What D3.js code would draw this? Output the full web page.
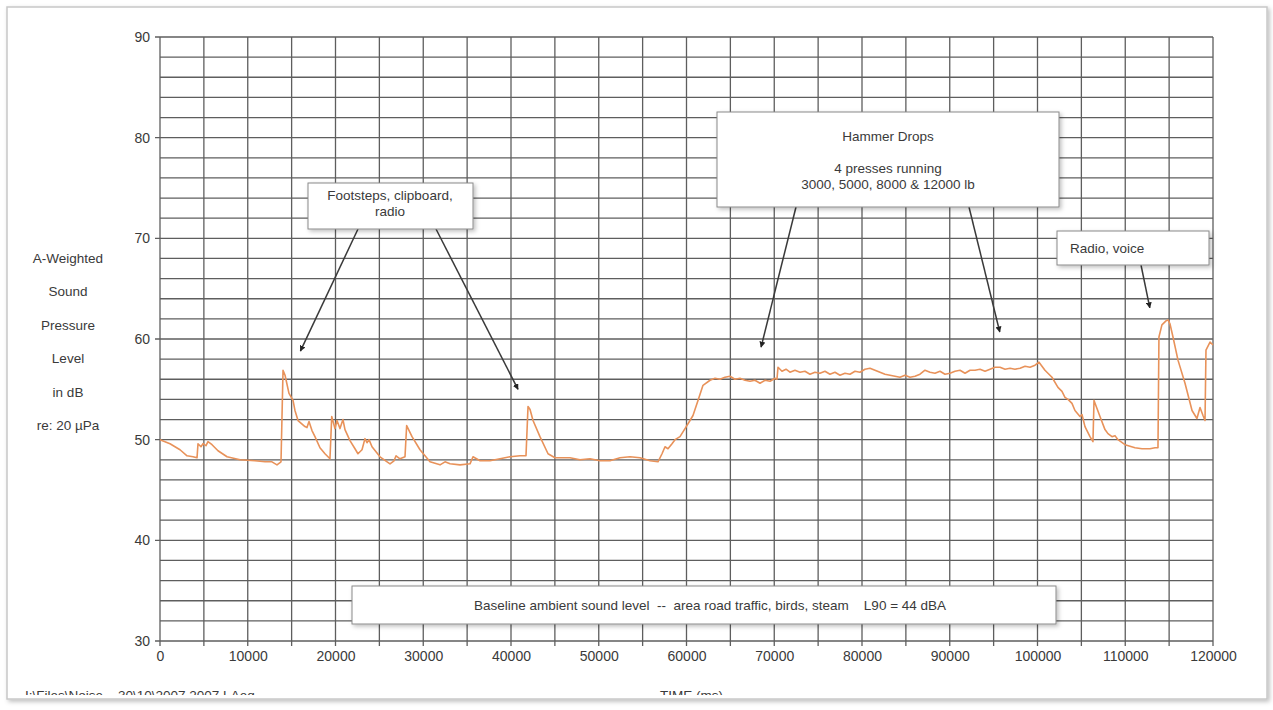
<!DOCTYPE html>
<html>
<head>
<meta charset="utf-8">
<script src="https://cdn.jsdelivr.net/npm/d3@7"></script>
<style>
  body { margin: 0; background: #fff; }
  text { font-family: "Liberation Sans", Arial, sans-serif; fill: #3a3a3a; white-space: pre; }
</style>
</head>
<body>
<div class="chart"></div>
<script>
// time axis in ms, level in dBA
var timeMs = [0, 1140, 2280, 3080, 3760, 4220, 4330, 4670, 4900, 5240, 5470, 5930, 6610, 7640, 9120, 10830, 11970, 12760, 13330, 13790,
  14020, 14250, 14700, 15160, 15380, 15730, 16520, 16750, 16980, 17320, 17660, 18230, 18800, 19370,
  19570, 19940, 20170, 20510, 20850, 21080, 21650, 22220, 22560, 23020, 23360, 23590, 23820, 24160, 25070, 26210, 26670, 26900, 27350, 27920,
  28110, 28720, 29630, 30770, 31910, 32480, 33050, 34190, 35330, 35670, 36470, 37610, 38750, 39890, 41030, 41710,
  41940, 42170, 42510, 43300, 44220, 45010, 46720, 47860, 49000, 50140, 51280, 52420, 53560, 54700, 55840, 56750,
  57210, 57550, 57890, 58350, 58690, 59260, 59830, 60400, 60740, 61310, 61880, 62680, 63250, 63820, 64390, 64950, 65520, 66090, 66670, 67240, 67800, 68380, 68950, 69520, 70090, 70310,
  70430, 70880, 71340, 71790, 72360, 72930, 73500, 74070, 74640, 75210, 75780, 76350, 76920, 77490, 78060, 78630, 79200, 79770, 80340, 80910, 81480, 82050, 82620, 83190, 83760, 84330, 84900, 85470, 86040, 86610, 87180, 87750, 88320, 88890, 89460, 90030, 90600, 91170, 91740, 92310, 92880, 93450, 94020, 94590, 95160, 95730, 96300, 96870, 97430, 98010, 98580, 99150, 99720, 100170,
  100850, 101650, 102330, 102790, 103130, 103480, 103930, 104270, 104840, 105070, 105410, 105980, 106320,
  106440, 107120, 107690, 108030, 108490, 108830, 109170, 109970, 111110, 111910, 112820, 113390, 113730,
  113840, 114180, 114640, 114870, 115100, 115440, 116010, 116810, 117610, 118170, 118520, 118860, 119090, 119200, 119660, 120000];

var levelDb = [50.0, 49.6, 49.0, 48.4, 48.3, 48.2, 49.6, 49.3, 49.6, 49.4, 49.8, 49.5, 48.9, 48.3, 48.0, 47.9, 47.8, 47.8, 47.5, 47.8,
  56.9, 56.4, 54.6, 53.9, 52.9, 51.9, 51.3, 51.2, 51.8, 50.9, 50.3, 49.2, 48.6, 48.1,
  52.3, 51.1, 51.9, 51.1, 52.0, 51.0, 49.9, 49.1, 48.6, 49.0, 50.1, 49.7, 50.0, 49.3, 48.3, 47.6, 47.9, 48.4, 48.1, 48.3,
  51.4, 50.3, 49.0, 47.8, 47.5, 47.8, 47.6, 47.5, 47.6, 48.3, 47.9, 47.9, 48.1, 48.3, 48.4, 48.4,
  53.3, 53.0, 51.9, 50.3, 48.6, 48.2, 48.2, 48.0, 48.1, 47.9, 47.9, 48.2, 48.3, 48.2, 47.9, 47.8,
  48.6, 49.3, 49.1, 49.6, 50.0, 50.3, 51.1, 51.9, 52.4, 53.9, 55.4, 55.9, 56.1, 56.0, 56.2, 56.3, 56.0, 56.1, 55.9, 55.8, 55.9, 55.6, 55.9, 55.8, 56.1, 56.0,
  57.2, 56.8, 57.0, 56.7, 56.9, 56.7, 56.8, 56.5, 56.7, 56.6, 56.8, 56.5, 56.7, 56.4, 56.6, 56.5, 56.8, 56.7, 57.0, 57.1, 56.9, 56.7, 56.5, 56.4, 56.3, 56.2, 56.4, 56.2, 56.3, 56.5, 56.9, 56.7, 56.6, 56.8, 56.5, 56.6, 56.8, 56.9, 56.6, 56.9, 56.9, 57.0, 56.8, 57.0, 57.2, 57.2, 57.0, 57.1, 57.0, 57.1, 57.3, 57.2, 57.4, 57.7,
  56.9, 56.2, 55.2, 54.8, 54.2, 54.0, 53.6, 52.9, 52.3, 52.5, 51.3, 50.3, 49.8,
  53.9, 52.3, 51.0, 50.6, 50.3, 50.4, 50.0, 49.5, 49.2, 49.1, 49.1, 49.2, 49.2,
  60.2, 61.4, 61.8, 61.9, 61.5, 60.2, 57.9, 55.6, 52.9, 52.1, 53.2, 52.4, 51.9, 58.9, 59.7, 59.4];

var xTicks = [0, 10000, 20000, 30000, 40000, 50000, 60000, 70000, 80000, 90000, 100000, 110000, 120000];
var yTicks = [30, 40, 50, 60, 70, 80, 90];
var yLabelLines = ["A-Weighted", "Sound", "Pressure", "Level", "in dB", "re: 20 \u00b5Pa"];

var svgWidth = 1273;
var svgHeight = 710;

var margin = {top: 37, right: 60, bottom: 69, left: 160};
var width = 1213 - margin.left;
var height = 641 - margin.top;

var svg = d3.select(".chart")
  .append("svg")
  .attr("width", svgWidth)
  .attr("height", svgHeight);

var defs = svg.append("defs");

var shadow = defs.append("filter").attr("id", "shadow")
  .attr("x", "-5%").attr("y", "-10%").attr("width", "115%").attr("height", "130%");
shadow.append("feDropShadow")
  .attr("dx", 2).attr("dy", 2).attr("stdDeviation", 2)
  .attr("flood-color", "#000").attr("flood-opacity", 0.25);

defs.append("clipPath").attr("id", "clipBottom")
  .append("rect").attr("x", 0).attr("y", 0).attr("width", svgWidth).attr("height", 695);

defs.append("marker")
  .attr("id", "arrow")
  .attr("viewBox", "0 0 10 10")
  .attr("refX", 9).attr("refY", 5)
  .attr("markerWidth", 4).attr("markerHeight", 4)
  .attr("orient", "auto")
  .append("path")
  .attr("d", "M0,0 L10,5 L0,10 z")
  .attr("fill", "#222");

// outer frame
svg.append("rect")
  .attr("x", 7).attr("y", 7)
  .attr("width", 1260).attr("height", 692)
  .attr("fill", "#fff")
  .attr("stroke", "#c8c8c8")
  .attr("stroke-width", 1.5)
  .attr("filter", "url(#shadow)");

var chartGroup = svg.append("g")
  .attr("transform", `translate(${margin.left}, ${margin.top})`);

var x = d3.scaleLinear().domain([0, 120000]).range([0, width]);
var y = d3.scaleLinear().domain([30, 90]).range([height, 0]);

// grid
chartGroup.append("g")
  .selectAll("line.v")
  .data(d3.range(0, 120001, 5000))
  .join("line")
  .attr("x1", d => x(d)).attr("x2", d => x(d))
  .attr("y1", 0).attr("y2", height + 5)
  .attr("stroke", "#5e5e5e")
  .attr("stroke-width", 1.3);

chartGroup.append("g")
  .selectAll("line.h")
  .data(d3.range(30, 91, 2))
  .join("line")
  .attr("x1", d => (d % 10 === 0 ? -5 : 0)).attr("x2", width)
  .attr("y1", d => y(d)).attr("y2", d => y(d))
  .attr("stroke", "#5e5e5e")
  .attr("stroke-width", 1.3);

// axes labels
var xAxis = chartGroup.append("g")
  .attr("transform", `translate(0, ${height})`)
  .call(d3.axisBottom(x).tickValues(xTicks).tickSize(0).tickPadding(10).tickFormat(d3.format("d")));
xAxis.select(".domain").remove();
xAxis.selectAll("text").style("font-size", "14px").attr("fill", "#3a3a3a");

var yAxis = chartGroup.append("g")
  .call(d3.axisLeft(y).tickValues(yTicks).tickSize(0).tickPadding(10));
yAxis.select(".domain").remove();
yAxis.selectAll("text").style("font-size", "14px").attr("fill", "#3a3a3a");

// y title
svg.append("g")
  .selectAll("text")
  .data(yLabelLines)
  .join("text")
  .attr("x", 68)
  .attr("y", (d, i) => 263 + i * 33.4)
  .attr("text-anchor", "middle")
  .style("font-size", "13.5px")
  .text(d => d);

// bottom text, cut off by the frame
var bottom = svg.append("g").attr("clip-path", "url(#clipBottom)");
bottom.append("text")
  .attr("x", 660).attr("y", 700)
  .style("font-size", "13.5px")
  .text("TIME (ms)");
bottom.append("text")
  .attr("x", 25).attr("y", 700)
  .style("font-size", "13.5px")
  .text("I:\\Files\\Noise    30\\10\\2007 2007 LAeq");

// the level trace
var points = timeMs.map((t, i) => [t, levelDb[i]]);
chartGroup.append("path")
  .datum(points)
  .attr("fill", "none")
  .attr("stroke", "#e8925a")
  .attr("stroke-width", 1.6)
  .attr("stroke-linejoin", "round")
  .attr("d", d3.line().x(d => x(d[0])).y(d => y(d[1])));

// annotation boxes
var notes = [
  {x: 308, y: 183, w: 165, h: 46, lines: ["Footsteps, clipboard,", "radio"], ly: [200, 216], tx: 390, anchor: "middle",
   arrows: [[358, 229, 16000, 58.8], [436, 229, 40800, 55.0]]},
  {x: 717, y: 112, w: 342, h: 95, lines: ["Hammer Drops", "4 presses running", "3000, 5000, 8000 & 12000 lb"], ly: [141, 173, 189], tx: 888, anchor: "middle",
   arrows: [[796, 207, 68500, 59.2], [969, 207, 95700, 60.7]]},
  {x: 1057, y: 231, w: 152, h: 34, lines: ["Radio, voice"], ly: [253], tx: 1070, anchor: "start",
   arrows: [[1141, 265, 112800, 63.1]]},
  {x: 352, y: 586, w: 704, h: 38, lines: ["Baseline ambient sound level  --  area road traffic, birds, steam    L90 = 44 dBA"], ly: [610], tx: 710, anchor: "middle",
   arrows: []}
];

notes.forEach(function(n) {
  n.arrows.forEach(function(a) {
    svg.append("line")
      .attr("x1", a[0]).attr("y1", a[1])
      .attr("x2", margin.left + x(a[2])).attr("y2", margin.top + y(a[3]))
      .attr("stroke", "#3a3a3a")
      .attr("stroke-width", 1.5)
      .attr("marker-end", "url(#arrow)");
  });
  svg.append("rect")
    .attr("x", n.x).attr("y", n.y)
    .attr("width", n.w).attr("height", n.h)
    .attr("fill", "#fff")
    .attr("stroke", "#8a8a8a")
    .attr("stroke-width", 1)
    .attr("filter", "url(#shadow)");
  n.lines.forEach(function(l, i) {
    svg.append("text")
      .attr("x", n.tx).attr("y", n.ly[i])
      .attr("text-anchor", n.anchor)
      .style("font-size", "13.5px")
      .text(l);
  });
});
</script>
</body>
</html>
